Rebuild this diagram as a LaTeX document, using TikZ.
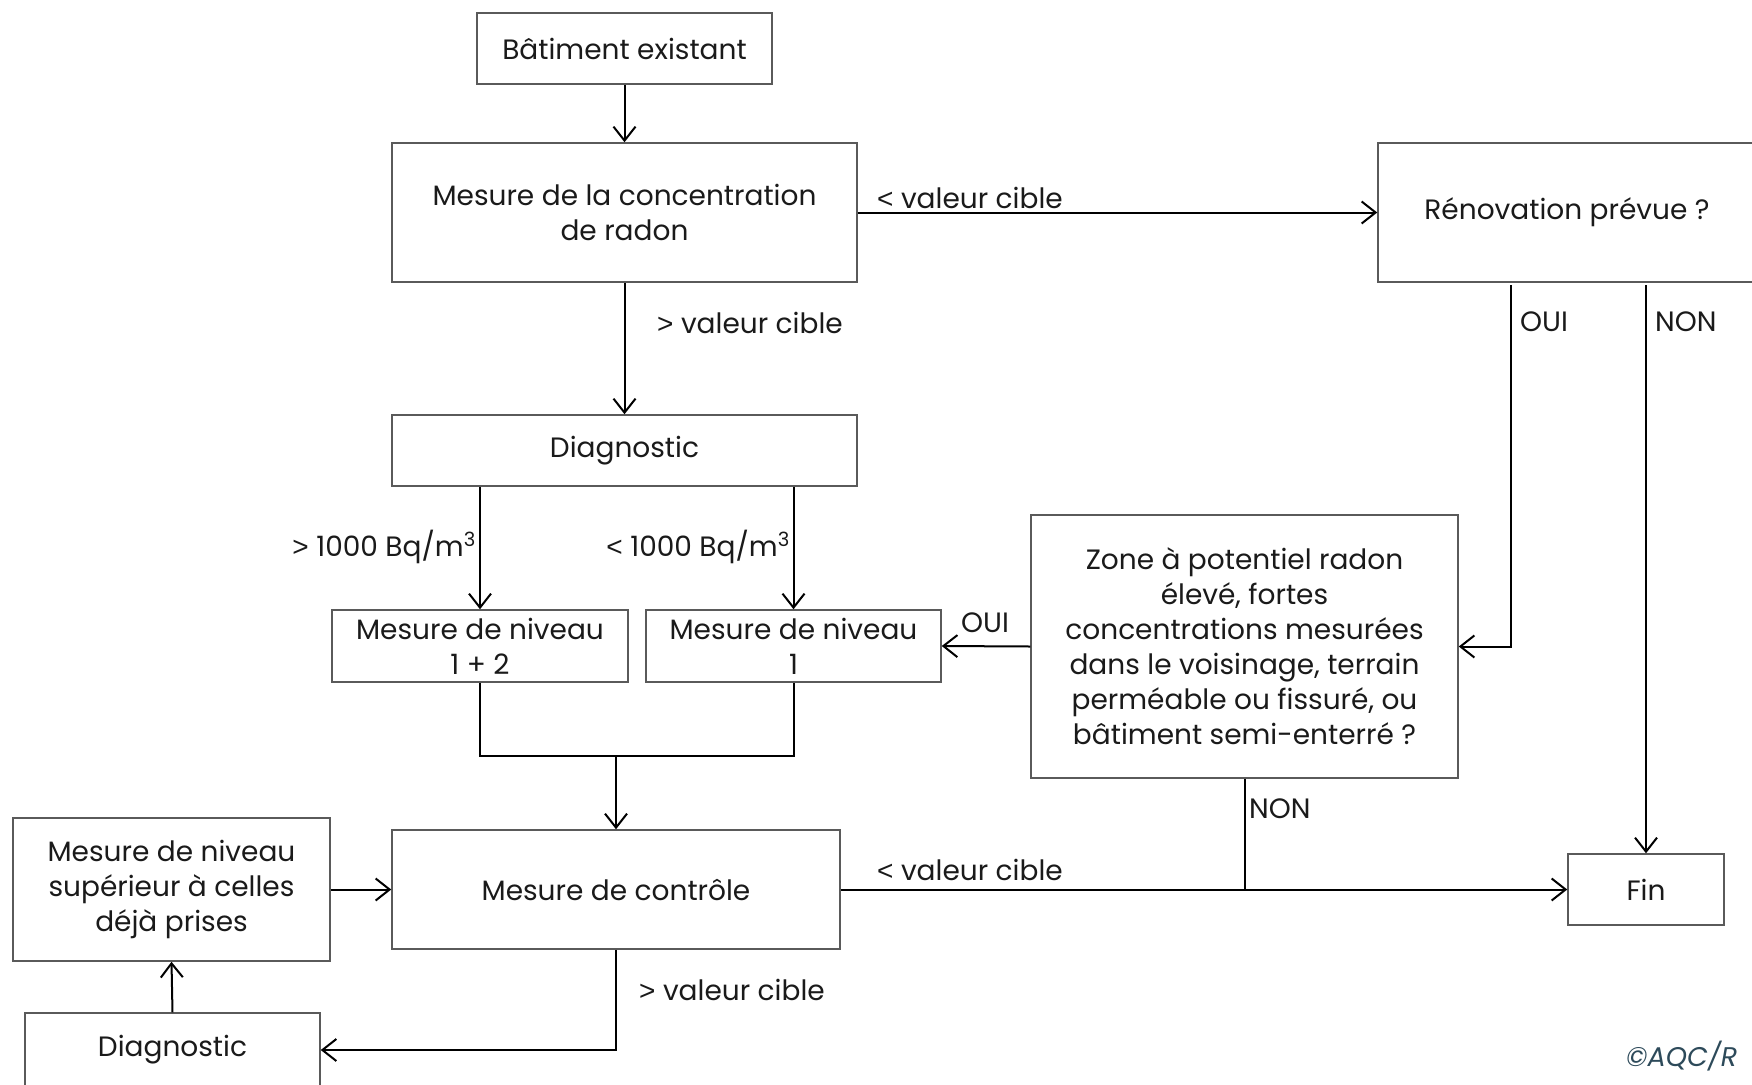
\documentclass[tikz,border=0pt]{standalone}
\usepackage{fontspec}
\setmainfont{Poppins}
\newfontfamily\ltgt{Liberation Sans}
\newcommand{\LT}{{\ltgt <}}
\newcommand{\GT}{{\ltgt >}}
\usetikzlibrary{arrows.meta}
\definecolor{boxgray}{HTML}{5A5A5A}
\definecolor{txt}{HTML}{1A1A1A}
\definecolor{copyc}{HTML}{2D4A5A}
\tikzset{
  box/.style={draw=boxgray, line width=1.5pt, fill=white, align=center, inner sep=0pt, text=txt,
    font=\fontsize{28}{35}\selectfont},
  conn/.style={line width=2pt, black},
  arr/.style={conn, -{Straight Barb[length=14pt,width=22pt,line width=2pt]}},
  lbl/.style={text=txt, font=\fontsize{28}{35}\selectfont, inner sep=0pt},
}
\begin{document}
\begin{tikzpicture}[x=1pt,y=-1pt]
\useasboundingbox (0,0) rectangle (1752,1084);
\clip (0,0) rectangle (1752,1084);
\fill[white] (0,0) rectangle (1752,1084);

\node[box, minimum width=295, minimum height=71] (B1) at (624.5,48.5) {Bâtiment existant};
\node[box, minimum width=465, minimum height=139] (B2) at (624.5,212.5) {Mesure de la concentration\\de radon};
\node[box, minimum width=378, minimum height=139] (B3) at (1567,212.5) {Rénovation prévue ?};
\node[box, minimum width=465, minimum height=71] (B4) at (624.5,450.5) {Diagnostic};
\node[box, minimum width=296, minimum height=72] (B5) at (480,646) {Mesure de niveau\\1 + 2};
\node[box, minimum width=295, minimum height=72] (B6) at (793.5,646) {Mesure de niveau\\1};
\node[box, minimum width=427, minimum height=263] (B7) at (1244.5,646.5) {Zone à potentiel radon\\élevé, fortes\\concentrations mesurées\\dans le voisinage, terrain\\perméable ou fissuré, ou\\bâtiment semi-enterré ?};
\node[box, minimum width=448, minimum height=119] (B8) at (616,889.5) {Mesure de contrôle};
\node[box, minimum width=317, minimum height=143] (B9) at (171.5,889.5) {Mesure de niveau\\supérieur à celles\\déjà prises};
\node[box, minimum width=295, minimum height=74] (B10) at (172.5,1050) {Diagnostic};
\node[box, minimum width=156, minimum height=71] (B11) at (1646,889.5) {Fin};

\coordinate (oui) at (1511,285);
\coordinate (non) at (1646,285);
\coordinate (j) at (616,756);

\draw[arr] (B1.south) -- (B2.north);
\draw[arr] (B2.east) -- (B3.west);
\draw[arr] (B2.south) -- (B4.north);
\draw[arr] (B4.south -| B5.north) -- (B5.north);
\draw[arr] (B4.south -| B6.north) -- (B6.north);
\draw[conn] (B5.south) |- (j) -| (B6.south);
\draw[arr] (j) -- (B8.north);
\draw[arr] (B7.west) -- (B6.east);
\draw[arr] (oui) |- (B7.east);
\draw[arr] (non) -- (B11.north);
\draw[arr] (B8.east) -- (B11.west);
\draw[conn] (B7.south) -- (B7.south |- B8.east);
\draw[arr] (B9.east) -- (B8.west);
\draw[arr] (B8.south) |- (B10.east);
\draw[arr] (B10.north) -- (B9.south);

\node[lbl, anchor=base west] (L1) at (877,208) {\LT{} valeur cible};
\node[lbl, anchor=base west] (L2) at (657,333) {\GT{} valeur cible};
\node[lbl, anchor=base east] (L3) at (476,556) {\GT{} 1000 Bq/m\textsuperscript{3}};
\node[lbl, anchor=base east] (L4) at (790,556) {\LT{} 1000 Bq/m\textsuperscript{3}};
\node[lbl, anchor=base west] (L5) at (961,632) {OUI};
\node[lbl, anchor=base west] (L6) at (1520,331) {OUI};
\node[lbl, anchor=base west] (L7) at (1655,331) {NON};
\node[lbl, anchor=base west] (L8) at (1249,818) {NON};
\node[lbl, anchor=base west] (L9) at (877,880) {\LT{} valeur cible};
\node[lbl, anchor=base west] (L10) at (639,1000) {\GT{} valeur cible};
\node[lbl, anchor=base west, text=copyc, font=\fontsize{27}{30}\selectfont\itshape] (C) at (1626,1066) {©AQC/R};
\end{tikzpicture}
\end{document}
